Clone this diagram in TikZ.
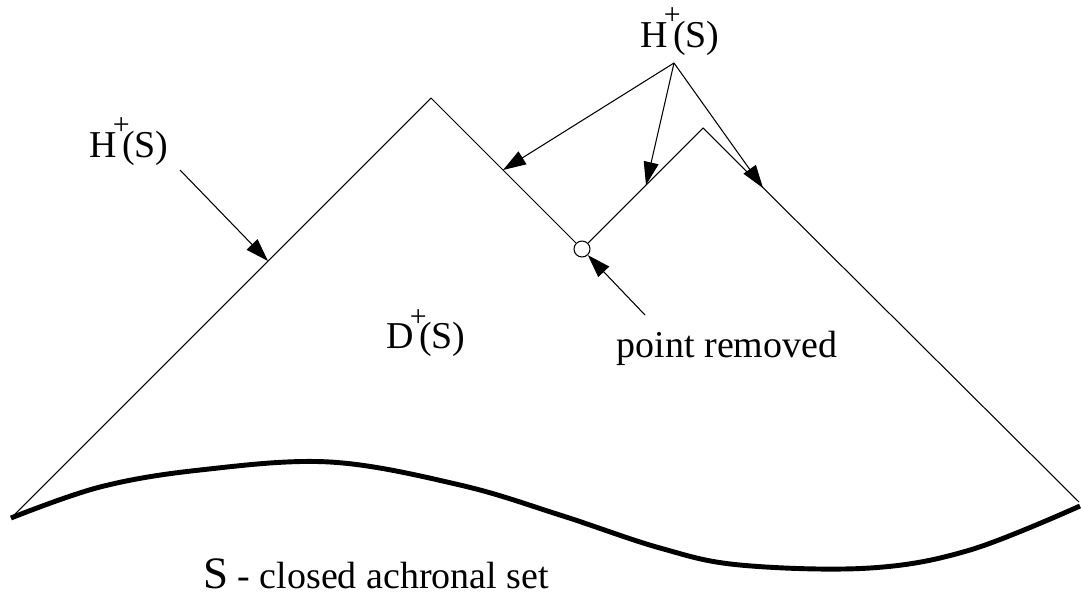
\documentclass[tikz,border=0pt]{standalone}
\usepackage{fontspec}
\setmainfont{Liberation Serif}
\usetikzlibrary{arrows.meta}

\newcommand{\upplus}{\kern-0.1em\raisebox{0.58em}{\fontsize{17}{17}\selectfont +}\kern-0.2em}

\begin{document}
\begin{tikzpicture}[x=0.02cm, y=-0.02cm,
    lbl/.style={font=\fontsize{21.6}{26}\selectfont, inner sep=0pt, anchor=base},
    ptr/.style={-{Triangle[length=0.46cm, width=0.3cm]}, line width=0.6pt},
    cone/.style={line width=0.6pt}]
        \useasboundingbox (0,0) rectangle (1081,596);

        % Boundary of D+(S)
        \coordinate (lend) at (11,518);
        \coordinate (top1) at (431,98);
        \node[circle, draw, fill=white, line width=0.6pt, minimum size=0.32cm, inner sep=0pt] (rm) at (582,249) {};
        \coordinate (top2) at (703,128);
        \coordinate (rend) at (1079,502);
        \draw[cone] (lend) -- (top1) -- (rm);
        \draw[cone] (rm) -- (top2) -- (rend);

        % The set S
        \draw[line width=2.8pt] plot[smooth, tension=0.6] coordinates {(11,518) (100,487) (200,470) (330,462) (460,485) (560,515) (660,548) (740,565) (870,568) (970,550) (1080,506)};

        % Labels
        \node[lbl] (hl) at (129,157) {H\upplus(S)};
        \node[lbl] (ht) at (680,47) {H\upplus(S)};
        \node[lbl] (dom) at (426,348) {D\upplus(S)};
        \node[lbl] (prm) at (727,357) {point removed};
        \node[lbl] (set) at (376,588) {{\fontsize{25.6}{30}\selectfont S} - closed achronal set};

        % Arrows
        \coordinate (hlt) at (180,170);
        \coordinate (hub) at (674,63);
        \coordinate (prt) at (645,315);
        \coordinate (a0) at (268,261);
        \coordinate (a1) at (503,170);
        \coordinate (a2) at (646,185);
        \coordinate (a3) at (763,188);
        \draw[ptr] (hlt) -- (a0);
        \draw[ptr] (hub) -- (a1);
        \draw[ptr] (hub) -- (a2);
        \draw[ptr] (hub) -- (a3);
        \draw[ptr] (prt) -- (rm);
\end{tikzpicture}
\end{document}
